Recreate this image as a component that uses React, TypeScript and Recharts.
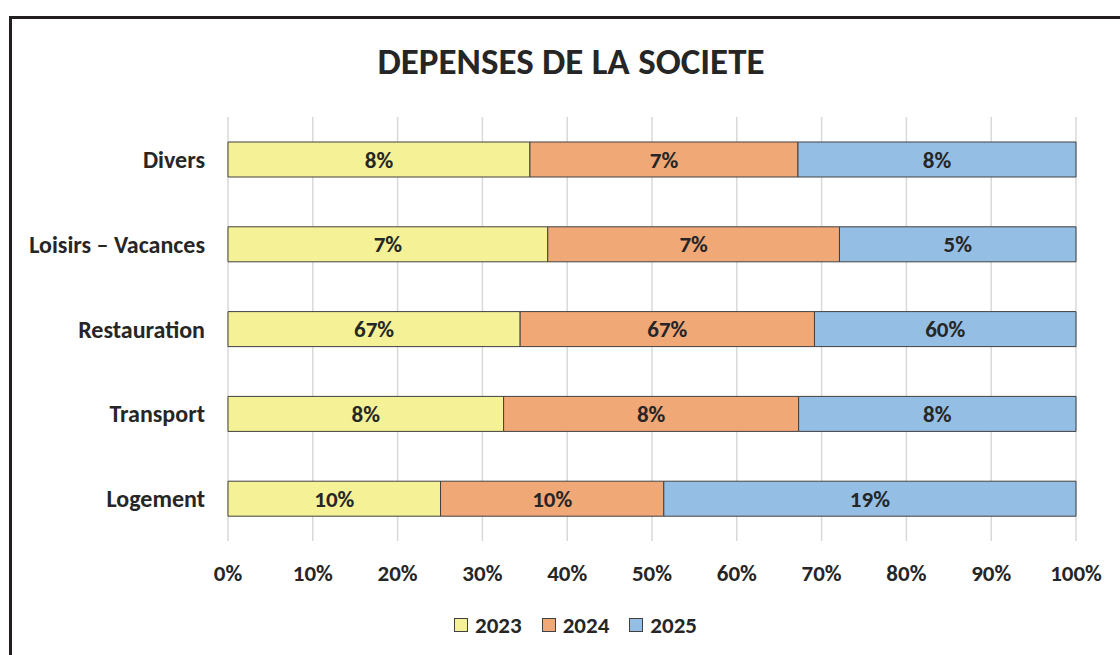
import React from 'react';
import {
  BarChart,
  Bar,
  XAxis,
  YAxis,
  CartesianGrid,
  Legend,
  LabelList,
} from 'recharts';

const categories = ['Divers', 'Loisirs – Vacances', 'Restauration', 'Transport', 'Logement'];
const years = ['2023', '2024', '2025'];
const values2023 = [8.2, 7.3, 66.8, 7.8, 9.9];
const values2024 = [7.28, 6.66, 67.3, 8.35, 10.4];
const values2025 = [7.55, 5.4, 59.8, 7.85, 19.2];
const xTicks = [0, 0.1, 0.2, 0.3, 0.4, 0.5, 0.6, 0.7, 0.8, 0.9, 1];

const seriesValues = [values2023, values2024, values2025];
const colors = ['#F5F196', '#F1A877', '#95BEE4'];

const FONT = 'Carlito, Lato, sans-serif';
const TEXT = '#262626';

const data = categories.map((name, i) => ({
  name,
  y2023: values2023[i],
  y2024: values2024[i],
  y2025: values2025[i],
}));

function makeLabel(values: number[]) {
  return (props: any) => {
    const { x, y, width, height, index } = props;
    return (
      <text
        x={Number(x) + Number(width) / 2}
        y={Number(y) + Number(height) / 2}
        textAnchor="middle"
        dominantBaseline="central"
        fontFamily={FONT}
        fontWeight="bold"
        fontSize={23}
        fill={TEXT}
      >
        {Math.round(values[index]) + '%'}
      </text>
    );
  };
}

function LegendContent() {
  return (
    <div
      style={{
        display: 'flex',
        justifyContent: 'center',
        alignItems: 'center',
        paddingLeft: 47,
        height: 30,
        fontFamily: FONT,
        fontWeight: 'bold',
        fontSize: 23,
        color: TEXT,
      }}
    >
      {years.map((yr, i) => (
        <div key={yr} style={{ display: 'flex', alignItems: 'center', margin: '0 10px' }}>
          <span
            style={{
              width: 12,
              height: 12,
              background: colors[i],
              border: '1px solid #404040',
              marginRight: 7,
            }}
          />
          <span>{yr}</span>
        </div>
      ))}
    </div>
  );
}

export default function App() {
  return (
    <div
      style={{
        position: 'absolute',
        left: 0,
        top: 0,
        width: 1120,
        height: 655,
        overflow: 'hidden',
        background: '#fff',
      }}
    >
      <div
        style={{
          position: 'absolute',
          left: 9,
          top: 16,
          width: 1200,
          height: 800,
          borderLeft: '3px solid #231F20',
          borderTop: '3px solid #231F20',
        }}
      />
      <div
        style={{
          position: 'absolute',
          left: 0,
          width: 1142,
          top: 39,
          textAlign: 'center',
          fontFamily: FONT,
          fontWeight: 'bold',
          fontSize: 37,
          color: TEXT,
        }}
      >
        DEPENSES DE LA SOCIETE
      </div>
      <div style={{ position: 'absolute', left: 0, top: 0 }}>
        <BarChart
          width={1120}
          height={655}
          data={data}
          layout="vertical"
          stackOffset="expand"
          margin={{ top: 117, right: 44, bottom: 15, left: 28 }}
        >
          <CartesianGrid horizontal={false} stroke="#D9D9D9" strokeWidth={1.5} />
          <XAxis
            type="number"
            domain={[0, 1]}
            ticks={xTicks}
            axisLine={false}
            tickLine={false}
            tickSize={0}
            tickMargin={24}
            height={69}
            interval={0}
            tickFormatter={(v: number) => Math.round(v * 100) + '%'}
            tick={{ fontFamily: FONT, fontWeight: 'bold', fontSize: 23, fill: TEXT }}
          />
          <YAxis
            type="category"
            dataKey="name"
            width={200}
            axisLine={false}
            tickLine={false}
            tickSize={0}
            tickMargin={23}
            tick={{ fontFamily: FONT, fontWeight: 'bold', fontSize: 24, fill: TEXT }}
          />
          <Legend verticalAlign="bottom" height={30} content={() => <LegendContent />} />
          {years.map((yr, i) => (
            <Bar
              key={yr}
              dataKey={'y' + yr}
              name={yr}
              stackId="a"
              fill={colors[i]}
              stroke="#404040"
              strokeWidth={1}
              barSize={35}
              isAnimationActive={false}
            >
              <LabelList dataKey={'y' + yr} content={makeLabel(seriesValues[i])} />
            </Bar>
          ))}
        </BarChart>
      </div>
    </div>
  );
}
